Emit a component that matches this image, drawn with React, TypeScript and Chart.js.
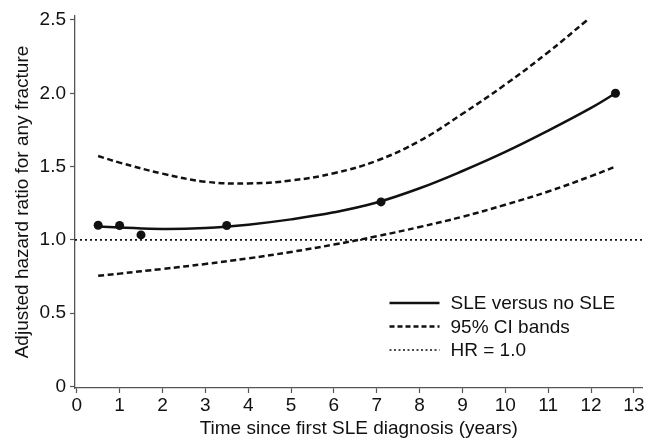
import { useEffect, useRef } from "react";
import { Chart, registerables } from "chart.js";

Chart.register(...registerables);

// Observed data points (years, adjusted HR)
const pointX = [0.5, 1.0, 1.5, 3.5, 7.1, 12.57];
const pointY = [1.1, 1.098, 1.034, 1.098, 1.259, 2.0];

// Fitted curve: SLE versus no SLE
const fitX = [0.5, 1, 2, 3, 4, 5, 6, 7, 8, 9, 10, 11, 12, 12.57];
const fitY = [1.092, 1.085, 1.074, 1.081, 1.104, 1.14, 1.188, 1.255, 1.352, 1.47, 1.6, 1.745, 1.9, 2.0];

// 95% CI bands
const upperX = [0.5, 1, 2, 3, 4, 5, 6, 7, 8, 9, 10, 11, 11.9];
const upperY = [1.572, 1.527, 1.452, 1.397, 1.385, 1.405, 1.455, 1.54, 1.675, 1.86, 2.06, 2.28, 2.497];
const lowerX = [0.5, 1, 2, 3, 4, 5, 6, 7, 8, 9, 10, 11, 12, 12.57];
const lowerY = [0.755, 0.77, 0.802, 0.836, 0.874, 0.918, 0.968, 1.025, 1.088, 1.158, 1.24, 1.33, 1.435, 1.5];

// Reference line HR = 1.0
const refX = [-0.04, 13.2];
const refY = [1.0, 1.0];

const xTicks = [0, 1, 2, 3, 4, 5, 6, 7, 8, 9, 10, 11, 12, 13];
const yTicks = [0, 0.5, 1.0, 1.5, 2.0, 2.5];
const yTickLabels = ["0", "0.5", "1.0", "1.5", "2.0", "2.5"];

const legendLabels = ["SLE versus no SLE", "95% CI bands", "HR = 1.0"];

const xTitle = "Time since first SLE diagnosis (years)";
const yTitle = "Adjusted hazard ratio for any fracture";

const FONT = "'Liberation Sans', Arial, Helvetica, sans-serif";
const INK = "#111111";
const AXIS = "#555555";

const toPts = (xs: number[], ys: number[]) => xs.map((x, i) => ({ x, y: ys[i] }));

const legendStyles = [
  { dash: [] as number[], width: 2.5 },
  { dash: [5, 3], width: 2.5 },
  { dash: [2, 2.5], width: 1.5 },
];

const insideLegend = {
  id: "insideLegend",
  afterDraw(chart: any) {
    const { ctx, chartArea } = chart;
    const x0 = chartArea.right - 253;
    const y0 = chartArea.bottom - 85;
    const rowH = 23.5;
    ctx.save();
    legendLabels.forEach((label, i) => {
      const y = y0 + i * rowH;
      const st = legendStyles[i];
      ctx.beginPath();
      ctx.setLineDash(st.dash);
      ctx.lineWidth = st.width;
      ctx.strokeStyle = INK;
      ctx.moveTo(x0, y);
      ctx.lineTo(x0 + 50, y);
      ctx.stroke();
      ctx.setLineDash([]);
      ctx.fillStyle = INK;
      ctx.font = `19px ${FONT}`;
      ctx.textBaseline = "middle";
      ctx.textAlign = "left";
      ctx.fillText(label, x0 + 61, y + 1);
    });
    ctx.restore();
  },
};

export default function App() {
  const ref = useRef<HTMLCanvasElement | null>(null);

  useEffect(() => {
    if (!ref.current) return;
    const lineBase = {
      type: "line" as const,
      pointRadius: 0,
      pointHoverRadius: 0,
      borderColor: INK,
      backgroundColor: INK,
      fill: false,
      tension: 0.4,
    };
    const chart = new Chart(ref.current, {
      type: "line",
      data: {
        datasets: [
          {
            ...lineBase,
            label: "Observed",
            data: toPts(pointX, pointY),
            showLine: false,
            pointRadius: 4.5,
            pointBackgroundColor: INK,
            pointBorderColor: INK,
            pointBorderWidth: 0,
          },
          { ...lineBase, label: legendLabels[0], data: toPts(fitX, fitY), borderWidth: 2.5 },
          { ...lineBase, label: legendLabels[1], data: toPts(upperX, upperY), borderWidth: 2.5, borderDash: [6, 3.5] },
          { ...lineBase, label: legendLabels[1], data: toPts(lowerX, lowerY), borderWidth: 2.5, borderDash: [6, 3.5] },
          { ...lineBase, label: legendLabels[2], data: toPts(refX, refY), borderWidth: 1.6, borderDash: [2, 3], tension: 0 },
        ],
      },
      options: {
        animation: false,
        responsive: true,
        maintainAspectRatio: false,
        layout: { padding: { top: 16, right: 1, left: 0, bottom: 0 } },
        plugins: { legend: { display: false }, tooltip: { enabled: false } },
        scales: {
          x: {
            type: "linear",
            min: -0.04,
            max: 13.2,
            afterBuildTicks: (s: any) => {
              s.ticks = xTicks.map((v) => ({ value: v }));
            },
            afterFit: (s: any) => {
              s.height = 52;
              s.paddingRight = 0;
              s.paddingLeft = 0;
            },
            ticks: {
              color: INK,
              font: { family: FONT, size: 19 },
              padding: 1,
              maxRotation: 0,
              autoSkip: false,
              callback: (v: any) => String(v),
            },
            grid: { drawOnChartArea: false, drawTicks: true, tickLength: 5, tickColor: AXIS, tickWidth: 1.2 },
            border: { display: true, color: AXIS, width: 1.3 },
            title: {
              display: true,
              text: xTitle,
              color: INK,
              font: { family: FONT, size: 19 },
              padding: { top: 0, bottom: 0 },
            },
          },
          y: {
            type: "linear",
            min: -0.01,
            max: 2.527,
            afterBuildTicks: (s: any) => {
              s.ticks = yTicks.map((v) => ({ value: v }));
            },
            afterFit: (s: any) => {
              s.width = 75;
            },
            ticks: {
              color: INK,
              font: { family: FONT, size: 19 },
              padding: 4,
              autoSkip: false,
              callback: (_v: any, i: number) => yTickLabels[i],
            },
            grid: { drawOnChartArea: false, drawTicks: true, tickLength: 5, tickColor: AXIS, tickWidth: 1.2 },
            border: { display: true, color: AXIS, width: 1.3 },
            title: {
              display: true,
              text: yTitle,
              color: INK,
              font: { family: FONT, size: 19 },
              padding: { top: 11, bottom: 0 },
            },
          },
        },
      },
      plugins: [insideLegend],
    });
    return () => chart.destroy();
  }, []);

  return (
    <div style={{ position: "fixed", left: 0, top: 0, width: 647, height: 440, background: "#fff" }}>
      <canvas ref={ref} />
    </div>
  );
}
